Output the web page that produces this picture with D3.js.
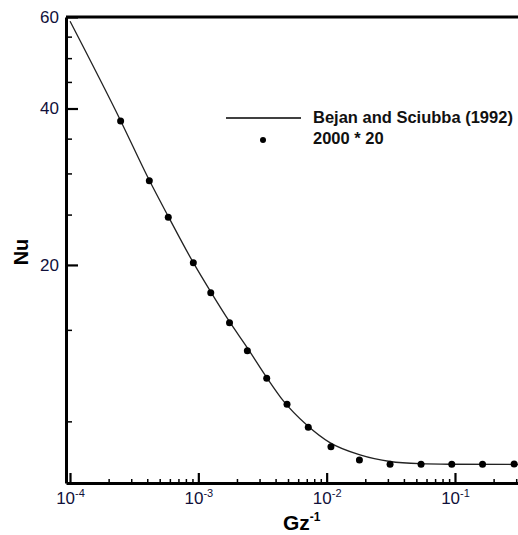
<!DOCTYPE html>
<html>
<head>
<meta charset="utf-8">
<script src="https://cdn.jsdelivr.net/npm/d3@7"></script>
<style>
  body { margin: 0; background: #fff; }
  svg { display: block; font-family: "Liberation Sans", Arial, sans-serif; }
</style>
</head>
<body>
<svg width="518" height="535"></svg>
<script>
// Bejan and Sciubba (1992) curve
var lineGz = [1e-4, 2.48e-4, 4.15e-4, 5.83e-4, 9.14e-4, 1.25e-3, 1.75e-3, 2.41e-3, 3.41e-3, 4.6e-3, 7.0e-3, 1.06e-2, 1.82e-2, 3.12e-2, 5.34e-2, 9.16e-2, 0.31];
var lineNu = [58.9, 37.9, 29.1, 24.8, 20.2, 17.75, 15.55, 13.85, 12.15, 10.95, 9.84, 9.10, 8.62, 8.37, 8.29, 8.27, 8.26];

// 2000 * 20 points
var ptGz = [2.48e-4, 4.15e-4, 5.83e-4, 9.14e-4, 1.25e-3, 1.75e-3, 2.41e-3, 3.41e-3, 4.91e-3, 7.19e-3, 1.08e-2, 1.80e-2, 3.12e-2, 5.44e-2, 9.44e-2, 0.164, 0.289];
var ptNu = [37.85, 29.05, 24.7, 20.2, 17.69, 15.48, 13.68, 12.1, 10.79, 9.74, 8.94, 8.43, 8.27, 8.27, 8.27, 8.27, 8.28];

var xMajor = [1e-4, 1e-3, 1e-2, 1e-1];
var xExp = ["-4", "-3", "-2", "-1"];
var yMajor = [20, 40, 60];
var yMinor = [10, 15, 25, 30, 35, 45, 50, 55];
var seriesNames = ["Bejan and Sciubba (1992)", "2000 * 20"];

var svg = d3.select("svg");

var x = d3.scaleLog().domain([9.307e-5, 0.35]).range([66, 524.8]);
var y = d3.scaleLog().domain([7.61, 60]).range([483, 17]);

// minor x ticks 2..9 per decade
var xMinor = [];
xMajor.forEach(function(d) {
  for (var k = 2; k <= 9; k++) {
    if (d * k < 0.35) xMinor.push(d * k);
  }
});

// top frame
svg.append("line")
  .attr("x1", 66).attr("x2", 518)
  .attr("y1", 17).attr("y2", 17)
  .attr("stroke", "#000").attr("stroke-width", 3);

// x axis
var gx = svg.append("g").attr("transform", "translate(0,483)");
gx.call(d3.axisBottom(x).tickValues(xMinor).tickSize(-4).tickSizeOuter(0).tickFormat(""))
  .call(function(g) { g.select(".domain").remove(); })
  .selectAll("line").attr("stroke-width", 1.5);
var gxm = svg.append("g").attr("transform", "translate(0,483)")
  .call(d3.axisBottom(x).tickValues(xMajor).tickSize(-10).tickSizeOuter(0).tickPadding(9));
gxm.select(".domain").attr("stroke-width", 3);
gxm.selectAll(".tick line").attr("stroke-width", 2.2);
gxm.selectAll(".tick text").each(function(d, i) {
  var t = d3.select(this).text("")
    .attr("font-size", 17).attr("fill", "#10103a");
  t.append("tspan").text("10");
  t.append("tspan").attr("font-size", 11).attr("dy", "-0.62em").text(xExp[i]);
});

// y axis
var gy = svg.append("g").attr("transform", "translate(66,0)");
gy.call(d3.axisLeft(y).tickValues(yMinor).tickSize(-6).tickSizeOuter(0).tickFormat(""))
  .call(function(g) { g.select(".domain").remove(); })
  .selectAll("line").attr("stroke-width", 1.5);
var gym = svg.append("g").attr("transform", "translate(66,0)")
  .call(d3.axisLeft(y).tickValues(yMajor).tickSize(-12).tickSizeOuter(0).tickPadding(7).tickFormat(d3.format("d")));
gym.select(".domain").attr("stroke-width", 3);
gym.selectAll(".tick line").attr("stroke-width", 2.2);
gym.selectAll(".tick text").attr("font-size", 17).attr("fill", "#10103a");

// axis titles
var gt = svg.append("text")
  .attr("x", 283).attr("y", 530)
  .attr("font-size", 21).attr("font-weight", "bold").attr("fill", "#000");
gt.append("tspan").text("Gz");
gt.append("tspan").attr("font-size", 12).attr("dy", -9).text("-1");

svg.append("text")
  .attr("transform", "translate(28,252) rotate(-90)")
  .attr("text-anchor", "middle")
  .attr("font-size", 20).attr("font-weight", "bold").attr("fill", "#000")
  .text("Nu");

// curve
var lineData = lineGz.map(function(d, i) { return [d, lineNu[i]]; });
var line = d3.line()
  .x(function(d) { return x(d[0]); })
  .y(function(d) { return y(d[1]); })
  .curve(d3.curveMonotoneX);

svg.append("path")
  .datum(lineData)
  .attr("d", line)
  .attr("fill", "none")
  .attr("stroke", "#222")
  .attr("stroke-width", 1.3);

// points
svg.append("g").selectAll("circle")
  .data(ptGz)
  .enter().append("circle")
  .attr("cx", function(d) { return x(d); })
  .attr("cy", function(d, i) { return y(ptNu[i]); })
  .attr("r", 3.5)
  .attr("fill", "#000");

// legend
var lg = svg.append("g");
lg.append("line")
  .attr("x1", 226).attr("x2", 301)
  .attr("y1", 118).attr("y2", 118)
  .attr("stroke", "#000").attr("stroke-width", 1.5);
lg.append("circle").attr("cx", 263).attr("cy", 140).attr("r", 3).attr("fill", "#000");
lg.selectAll("text")
  .data(seriesNames)
  .enter().append("text")
  .attr("x", 313)
  .attr("y", function(d, i) { return 123 + i * 21; })
  .attr("font-size", 16.5).attr("font-weight", "bold").attr("fill", "#111")
  .text(function(d) { return d; });
</script>
</body>
</html>
